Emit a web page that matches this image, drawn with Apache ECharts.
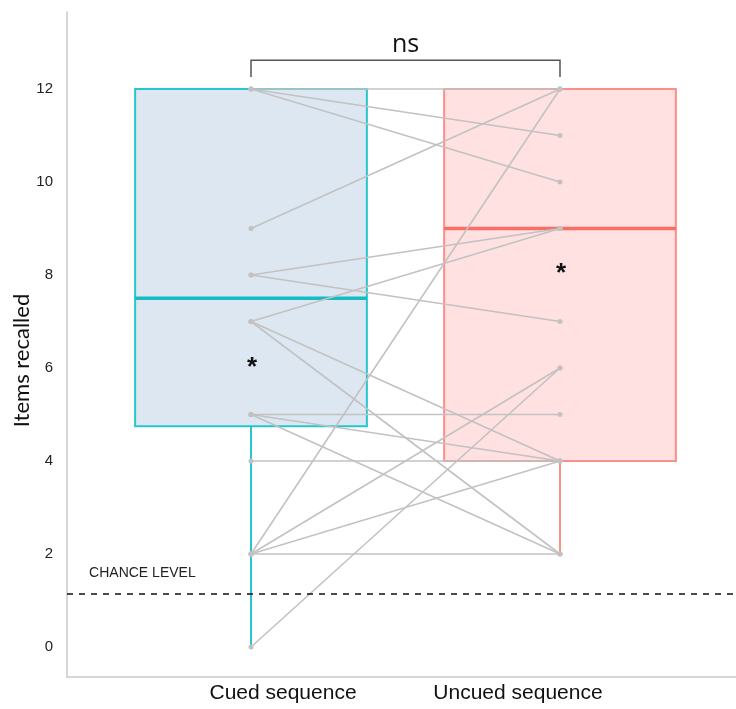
<!DOCTYPE html>
<html>
<head>
<meta charset="utf-8">
<script src="https://cdn.jsdelivr.net/npm/echarts@6/dist/echarts.min.js"></script>
<style>
html,body{margin:0;padding:0;background:#fff;}
#c{width:736px;height:709px;}
</style>
</head>
<body>
<div id="c"></div>
<script>
// ---- data ----
var categories = ['Cued sequence', 'Uncued sequence'];
var yTicks = [0, 2, 4, 6, 8, 10, 12];
// box stats: [min, Q1, median, Q3, max]
var cuedBox = [0, 4.75, 7.5, 12, 12];
var uncuedBox = [2, 4, 9, 12, 12];
// paired participants: cued value, uncued value
var cuedScores   = [12, 12, 12, 9, 8, 8, 7, 7, 7, 5, 5, 5, 4, 2, 2, 2, 2, 0];
var uncuedScores = [12, 11, 10, 12, 9, 7, 9, 4, 2, 5, 4, 2, 4, 2, 12, 6, 4, 6];
// asterisk markers
var starValues = [6.13, 8.15];
var chanceLevel = 1.15;
var chanceLabel = 'CHANCE LEVEL';
var bracketTop = 12.62, bracketFoot = 12.26, bracketTextY = 12.95;
var bracketText = 'ns';

var chart = echarts.init(document.getElementById('c'), null, {renderer: 'canvas'});

var boxColors = [
  {fill: '#dde7f2', stroke: '#27c6cd', median: '#16bcc4'},
  {fill: '#ffe1e1', stroke: '#ff8e88', median: '#fb6e67'}
];
var boxData = [[0].concat(cuedBox), [1].concat(uncuedBox)];
var pairData = cuedScores.map(function (v, i) { return [v, uncuedScores[i]]; });
var starData = starValues.map(function (v, i) { return [i, v]; });

var LABEL_X = [0.1036, 0.864];
var BOX_W = 0.75;

chart.setOption({
  animation: false,
  grid: {left: 67, right: 0, top: 12, bottom: 32, containLabel: false, outerBoundsMode: 'none'},
  xAxis: {
    type: 'value', min: -0.5955, max: 1.5696,
    splitLine: {show: false},
    axisTick: {show: false},
    axisLine: {show: true, onZero: false, lineStyle: {color: '#c9c9c9', width: 1.5}},
    axisLabel: {
      customValues: LABEL_X,
      margin: 6,
      fontSize: 21,
      color: '#111',
      fontFamily: 'Liberation Sans',
      formatter: function (v) { return v < 0.5 ? categories[0] : categories[1]; }
    }
  },
  yAxis: {
    type: 'value', min: -0.645, max: 13.656,
    name: 'Items recalled',
    nameLocation: 'middle',
    nameGap: 34,
    nameMoveOverlap: false,
    nameTextStyle: {fontSize: 22, fontFamily: 'Lato', color: '#111', padding: [0, 0, 0, -32]},
    splitLine: {show: false},
    axisTick: {show: false},
    axisLine: {show: true, onZero: false, lineStyle: {color: '#c9c9c9', width: 1.5}},
    axisLabel: {
      customValues: yTicks,
      margin: 14,
      fontSize: 15,
      color: '#222',
      fontFamily: 'Liberation Sans'
    }
  },
  series: [
    {
      type: 'custom',
      name: 'boxes',
      z: 1,
      data: boxData,
      renderItem: function (params, api) {
        var x = api.value(0), mn = api.value(1), q1 = api.value(2), md = api.value(3), q3 = api.value(4), mx = api.value(5);
        var c = boxColors[x];
        var w = api.size([BOX_W, 0])[0];
        var pQ3 = api.coord([x, q3]), pQ1 = api.coord([x, q1]);
        var pMd = api.coord([x, md]), pMn = api.coord([x, mn]), pMx = api.coord([x, mx]);
        var cx = pQ3[0];
        var children = [];
        children.push({type: 'line', shape: {x1: cx, y1: pQ1[1], x2: cx, y2: pMn[1]}, style: {stroke: c.stroke, lineWidth: 2}});
        children.push({type: 'line', shape: {x1: cx, y1: pQ3[1], x2: cx, y2: pMx[1]}, style: {stroke: c.stroke, lineWidth: 2}});
        children.push({type: 'rect', shape: {x: cx - w / 2, y: pQ3[1], width: w, height: pQ1[1] - pQ3[1]}, style: {fill: c.fill, stroke: c.stroke, lineWidth: 2}});
        children.push({type: 'line', shape: {x1: cx - w / 2, y1: pMd[1], x2: cx + w / 2, y2: pMd[1]}, style: {stroke: c.median, lineWidth: 3.5}});
        return {type: 'group', children: children};
      },
      markLine: {
        silent: true,
        symbol: ['none', 'none'],
        label: {show: false},
        lineStyle: {type: [6, 6], color: '#111', width: 1.5},
        data: [{yAxis: chanceLevel}]
      }
    },
    {
      type: 'custom',
      name: 'pairs',
      z: 2,
      data: pairData,
      renderItem: function (params, api) {
        var p0 = api.coord([0, api.value(0)]);
        var p1 = api.coord([1, api.value(1)]);
        var col = '#c2c2c2';
        return {type: 'group', children: [
          {type: 'line', shape: {x1: p0[0], y1: p0[1], x2: p1[0], y2: p1[1]}, style: {stroke: col, lineWidth: 1.6}},
          {type: 'circle', shape: {cx: p0[0], cy: p0[1], r: 2.5}, style: {fill: col}},
          {type: 'circle', shape: {cx: p1[0], cy: p1[1], r: 2.5}, style: {fill: col}}
        ]};
      }
    },
    {
      type: 'custom',
      name: 'stars',
      z: 3,
      data: starData,
      renderItem: function (params, api) {
        var p = api.coord([api.value(0), api.value(1)]);
        return {type: 'text', x: p[0] + 1, y: p[1] + 6, style: {text: '*', fill: '#111', font: 'bold 26px "Liberation Sans"', align: 'center', verticalAlign: 'middle'}};
      }
    },
    {
      type: 'custom',
      name: 'annotations',
      z: 3,
      data: [[0]],
      renderItem: function (params, api) {
        var a = api.coord([0, bracketFoot]), b = api.coord([0, bracketTop]);
        var c = api.coord([1, bracketTop]), d = api.coord([1, bracketFoot]);
        var t = api.coord([0.5, bracketTextY]);
        var lbl = api.coord([-0.524, 1.59]);
        return {type: 'group', children: [
          {type: 'polyline', shape: {points: [a, b, c, d]}, style: {stroke: '#555', lineWidth: 1.5, fill: null}},
          {type: 'text', x: t[0], y: t[1], style: {text: bracketText, fill: '#111', font: '25px "Open Sans"', align: 'center', verticalAlign: 'middle'}},
          {type: 'text', x: lbl[0], y: lbl[1], style: {text: chanceLabel, fill: '#222', font: '14px "Liberation Sans"', align: 'left', verticalAlign: 'middle'}}
        ]};
      }
    }
  ]
});
</script>
</body>
</html>
